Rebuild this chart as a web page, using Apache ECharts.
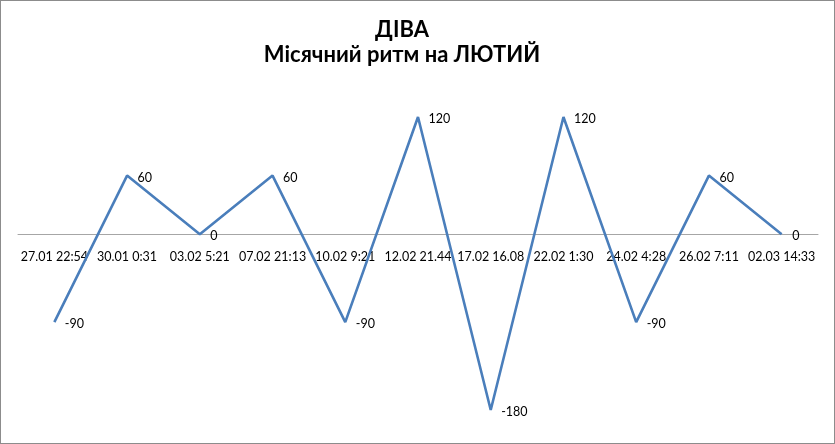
<!DOCTYPE html>
<html><head><meta charset="utf-8">
<script src="https://cdn.jsdelivr.net/npm/echarts@6/dist/echarts.min.js"></script>
<style>html,body{margin:0;padding:0;background:#fff}#c{width:835px;height:444px;box-sizing:border-box;border:1px solid #8c8c8c}</style>
</head><body><div id="c"></div>
<script>
const categories = ["27.01 22:54","30.01 0:31","03.02 5:21","07.02 21:13","10.02 9:21","12.02 21.44","17.02 16.08","22.02 1:30","24.02 4:28","26.02 7:11","02.03 14:33"];
const values = [-90, 60, 0, 60, -90, 120, -180, 120, -90, 60, 0];
const titleLines = ["ДІВА", "Місячний ритм на ЛЮТИЙ"];

const chart = echarts.init(document.getElementById('c'), null, {renderer:'canvas'});
chart.setOption({
  animation:false,
  title:{text:titleLines.join('\n'), left:396, top:11, textAlign:'center',
    textStyle:{fontFamily:'Lato', fontWeight:'bold', fontSize:22, color:'#000', lineHeight:25}},
  grid:{left:17, right:16, top:116, bottom:33},
  xAxis:{type:'category', data:categories, boundaryGap:true,
    axisLine:{onZero:true, lineStyle:{color:'#a6a6a6', width:1}},
    axisTick:{show:false},
    axisLabel:{interval:0, margin:-160, fontFamily:'Lato', fontSize:12.5, color:'#000'}},
  yAxis:{type:'value', min:-180, max:120, show:false, splitLine:{show:false}},
  series:[{type:'line', data:values, symbol:'circle', symbolSize:1, showSymbol:true,
    itemStyle:{color:'rgba(0,0,0,0)', borderWidth:0},
    lineStyle:{color:'#4a7ebb', width:2.6},
    label:{show:true, position:'right', distance:10, offset:[0,2], fontFamily:'Lato', fontSize:12.5, color:'#000'}}]
});
</script></body></html>
